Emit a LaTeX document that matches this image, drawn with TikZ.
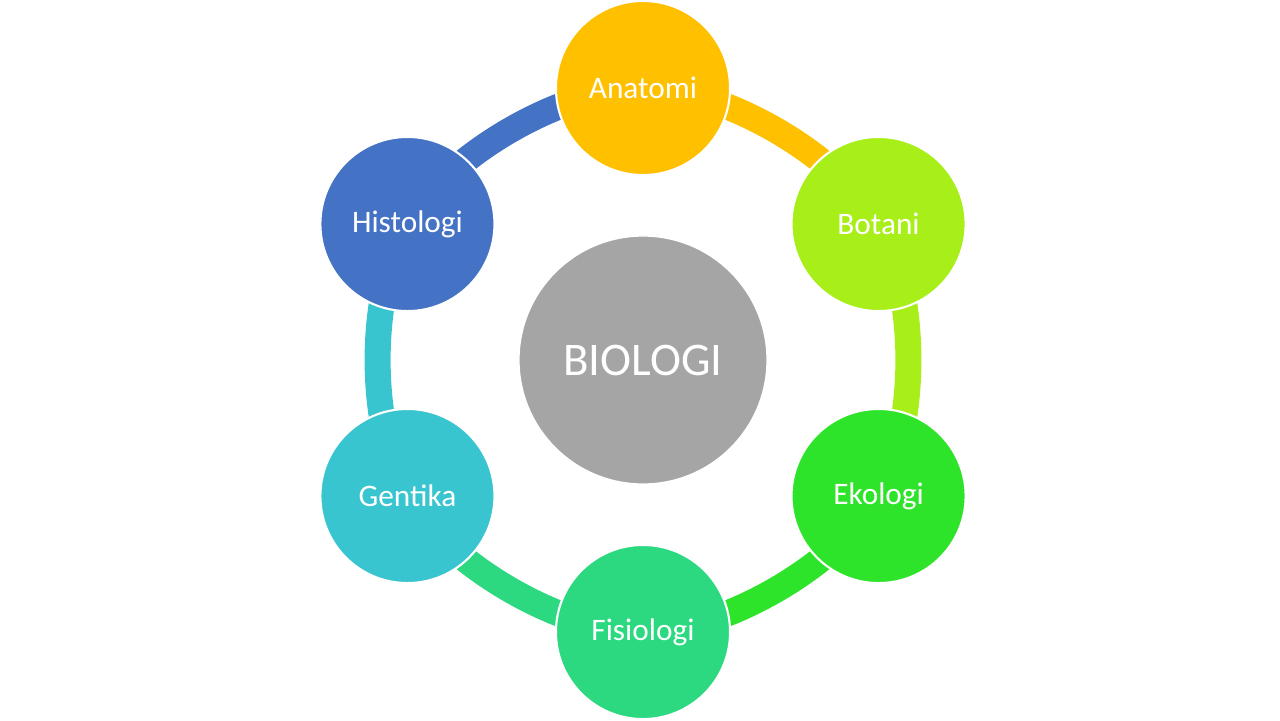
\documentclass[tikz,border=0pt]{standalone}
\usepackage{fontspec}
\setmainfont{Carlito}
\usetikzlibrary{backgrounds}
\definecolor{anat}{HTML}{FFC000}
\definecolor{bota}{HTML}{A8EE18}
\definecolor{ekol}{HTML}{2EE42A}
\definecolor{fisi}{HTML}{2CD981}
\definecolor{gent}{HTML}{39C5CF}
\definecolor{hist}{HTML}{4472C4}
\definecolor{gry}{HTML}{A5A5A5}
\begin{document}
\begin{tikzpicture}[x=.01cm,y=.01cm,
  topic/.style={circle,draw=white,line width=.6pt,minimum size=1.74cm,inner sep=0pt,text=white,font=\fontsize{8.9}{10}\selectfont},
  ring/.style={line width=.26cm,bend left=30,looseness=.75}]
\useasboundingbox (-643,-360) rectangle (637,360);
\node[circle,fill=gry,draw=white,minimum size=2.48cm,inner sep=0pt,text=white,font=\fontsize{13.3}{16}\selectfont] (bio) at (0,0) {BIOLOGI};
\foreach \nm/\a/\c in {Anatomi/90/anat,Botani/30/bota,Ekologi/-30/ekol,Fisiologi/-90/fisi,Gentika/-150/gent,Histologi/150/hist}{\node[topic,fill=\c] (\nm) at (\a:272) {\nm};}
\begin{scope}[on background layer]
\foreach \p/\q/\c in {Anatomi/Botani/anat,Botani/Ekologi/bota,Ekologi/Fisiologi/ekol,Fisiologi/Gentika/fisi,Gentika/Histologi/gent,Histologi/Anatomi/hist}{\draw[ring,draw=\c] (\p.center) to (\q.center);}
\end{scope}
\end{tikzpicture}
\end{document}
